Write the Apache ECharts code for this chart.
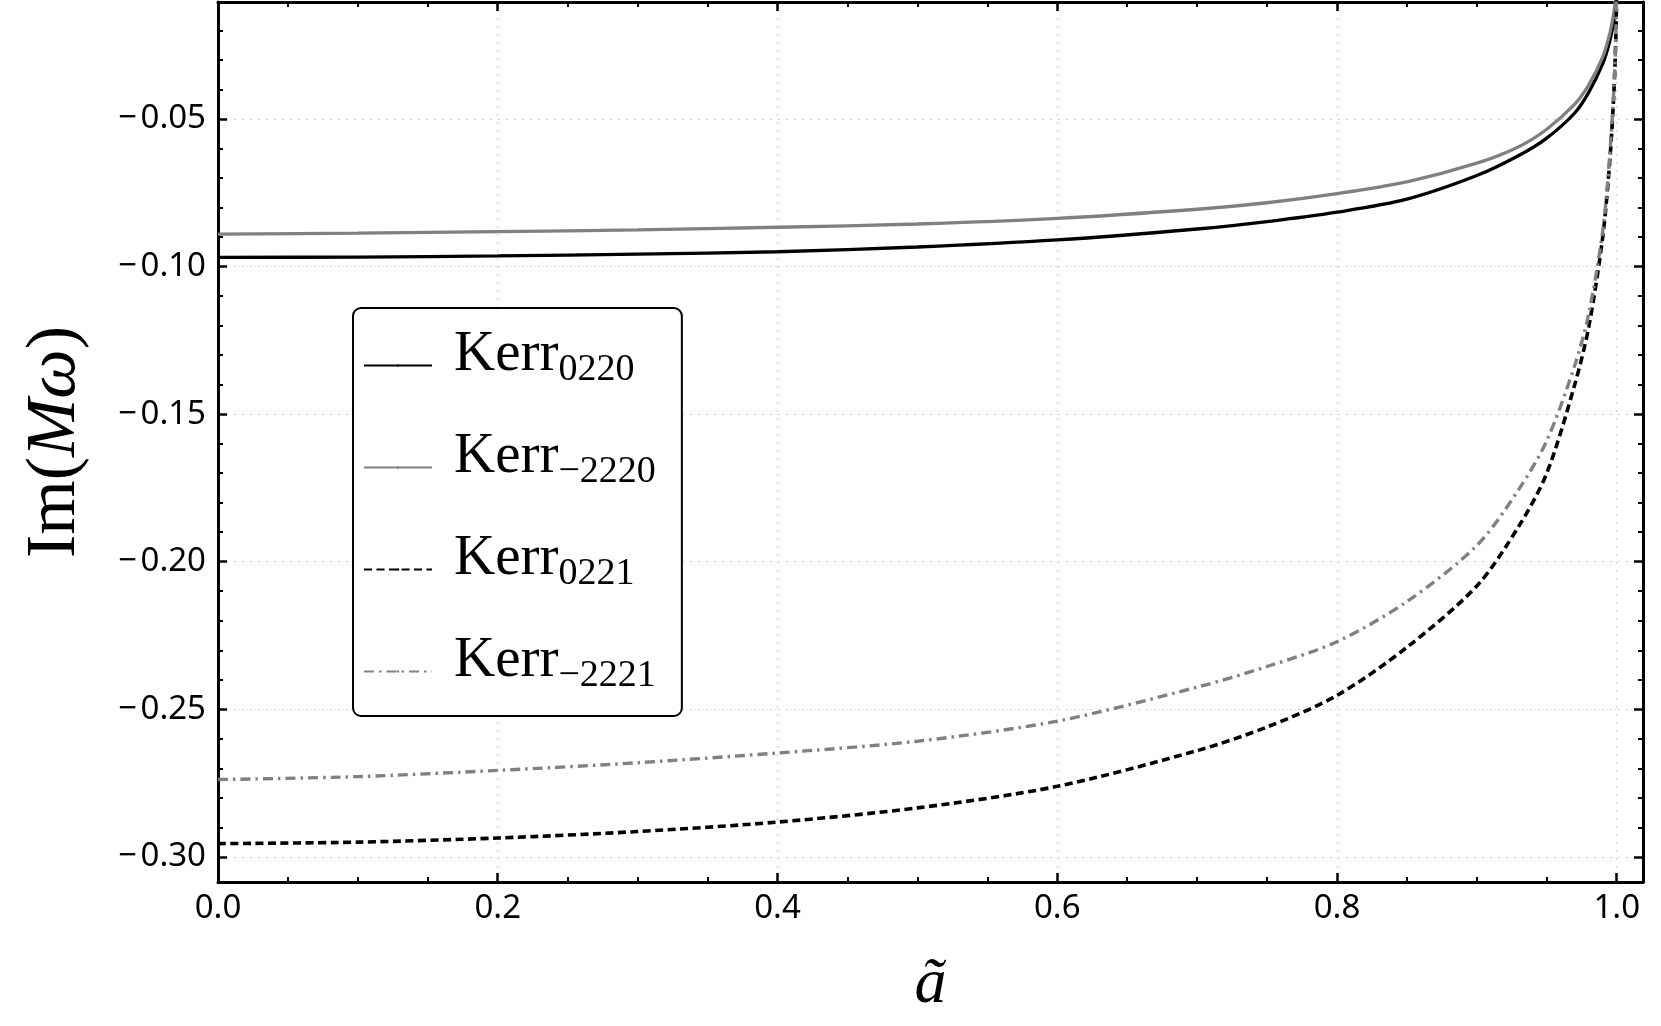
<!DOCTYPE html>
<html lang="en">
<head>
    <meta charset="UTF-8">
    <title>Im(Mω) vs ã</title>
    <style>
        html, body { margin: 0; padding: 0; background: #fff; }
    </style>
</head>
<body>

    <script src="https://cdn.jsdelivr.net/npm/echarts@6.0.0/dist/echarts.min.js"></script>

    <div id="main" style="width: 1661px;height:1026px;"></div>

    <script>
        // spin values (x axis)
        var spins = [0, 0.1, 0.2, 0.3, 0.4, 0.5, 0.6, 0.7, 0.75, 0.8, 0.85, 0.9, 0.93, 0.95, 0.97, 0.98, 0.99, 0.995, 0.998, 0.9995, 0.9999];

        // Im(M omega)
        var kerr0220  = [-0.0969, -0.0968, -0.0964, -0.0958, -0.0950, -0.0934, -0.0910, -0.0873, -0.0848, -0.0816, -0.0772, -0.0692, -0.0624, -0.0565, -0.0480, -0.0410, -0.0313, -0.0237, -0.0166, -0.0105, -0.0060];
        var kerrM2220 = [-0.0890, -0.0887, -0.0882, -0.0876, -0.0867, -0.0856, -0.0837, -0.0806, -0.0784, -0.0753, -0.0713, -0.0650, -0.0594, -0.0535, -0.0450, -0.0385, -0.0290, -0.0212, -0.0138, -0.0075, -0.0040];
        var kerr0221  = [-0.2955, -0.2950, -0.2936, -0.2914, -0.2882, -0.2834, -0.2761, -0.2640, -0.2560, -0.2453, -0.2290, -0.2082, -0.1880, -0.1700, -0.1400, -0.1205, -0.0900, -0.0645, -0.0410, -0.0205, -0.0092];
        var kerrM2221 = [-0.2738, -0.2728, -0.2707, -0.2681, -0.2648, -0.2608, -0.2540, -0.2425, -0.2355, -0.2271, -0.2135, -0.1945, -0.1755, -0.1590, -0.1335, -0.1160, -0.0880, -0.0625, -0.0395, -0.0197, -0.0088];

        var seriesNames = ['Kerr0220', 'Kerr-2220', 'Kerr0221', 'Kerr-2221'];
        var legendLabels = {
            'Kerr0220': '{k|Kerr}{s|0220}',
            'Kerr-2220': '{k|Kerr}{s|\u22122220}',
            'Kerr0221': '{k|Kerr}{s|0221}',
            'Kerr-2221': '{k|Kerr}{s|\u22122221}'
        };

        var xMin = 0, xMax = 1.0188;
        var yMin = -0.3085, yMax = -0.0104;

        function pairs(ys) {
            var out = [];
            for (var i = 0; i < spins.length; i++) {
                out.push([spins[i], ys[i]]);
            }
            return out;
        }

        function isMultiple(v, step) {
            var r = v / step;
            return Math.abs(r - Math.round(r)) < 1e-6;
        }

        var serif = 'Liberation Serif';
        var sans = 'Noto Sans';

        var tickStyle = { show: true, inside: true, length: 9, lineStyle: { color: '#000', width: 2.5 } };
        var axisLineStyle = { show: true, onZero: false, lineStyle: { color: '#000', width: 3 } };
        var gridStyle = { show: true, lineStyle: { color: '#cfcfcf', width: 1.2, type: [2, 6] } };

        var myChart = echarts.init(document.getElementById('main'));

        var option = {
            animation: false,
            backgroundColor: '#fff',
            grid: { left: 218, right: 18, top: 2, bottom: 144 },
            legend: {
                data: seriesNames,
                orient: 'vertical',
                left: 353,
                top: 308,
                padding: [19, 26, 6, 10],
                itemGap: 25,
                itemWidth: 68,
                itemHeight: 3,
                borderColor: '#000',
                borderWidth: 2,
                borderRadius: 8,
                backgroundColor: 'rgba(255,255,255,0.8)',
                formatter: function (name) { return legendLabels[name]; },
                textStyle: {
                    color: '#000',
                    rich: {
                        k: { fontFamily: serif, fontSize: 57, lineHeight: 60, padding: [0, 0, 20, 17], color: '#000' },
                        s: { fontFamily: serif, fontSize: 38, lineHeight: 60, padding: [10, 0, 0, 0], color: '#000' }
                    }
                }
            },
            xAxis: [
                {
                    type: 'value', min: xMin, max: xMax, splitNumber: 5,
                    name: '\u00e3', nameLocation: 'middle', nameGap: 71,
                    nameTextStyle: { fontFamily: serif, fontStyle: 'italic', fontSize: 64, color: '#000' },
                    axisLine: axisLineStyle,
                    axisTick: tickStyle,
                    minorTick: { show: true, splitNumber: 4, length: 5, lineStyle: { color: '#000', width: 2 } },
                    splitLine: gridStyle,
                    axisLabel: {
                        margin: 10, color: '#000', fontFamily: sans, fontSize: 33,
                        formatter: function (v) { return isMultiple(v, 0.2) ? v.toFixed(1) : ''; }
                    }
                },
                {
                    type: 'value', position: 'top', min: xMin, max: xMax, splitNumber: 5,
                    axisLine: axisLineStyle,
                    axisTick: tickStyle,
                    minorTick: { show: true, splitNumber: 4, length: 5, lineStyle: { color: '#000', width: 2 } },
                    splitLine: { show: false },
                    axisLabel: { show: false }
                }
            ],
            yAxis: [
                {
                    type: 'value', min: yMin, max: yMax, splitNumber: 6,
                    name: 'Im({i|M\u03c9})', nameLocation: 'middle', nameGap: 127, nameRotate: 90,
                    nameTextStyle: {
                        fontFamily: serif, fontSize: 70, color: '#000',
                        rich: { i: { fontFamily: serif, fontStyle: 'italic', fontSize: 70, color: '#000' } }
                    },
                    axisLine: axisLineStyle,
                    axisTick: tickStyle,
                    minorTick: { show: true, splitNumber: 5, length: 5, lineStyle: { color: '#000', width: 2 } },
                    splitLine: gridStyle,
                    axisLabel: {
                        margin: 12, color: '#000', fontFamily: sans, fontSize: 33,
                        formatter: function (v) {
                            if (!isMultiple(v, 0.05)) return '';
                            return '\u2212\u200a' + Math.abs(v).toFixed(2);
                        }
                    }
                },
                {
                    type: 'value', position: 'right', min: yMin, max: yMax, splitNumber: 6,
                    axisLine: axisLineStyle,
                    axisTick: tickStyle,
                    minorTick: { show: true, splitNumber: 5, length: 5, lineStyle: { color: '#000', width: 2 } },
                    splitLine: { show: false },
                    axisLabel: { show: false }
                }
            ],
            series: [
                {
                    name: 'Kerr0220', type: 'line', data: pairs(kerr0220),
                    symbol: 'none', clip: true, smooth: 0.3,
                    itemStyle: { color: '#000' },
                    lineStyle: { color: '#000', width: 3.3 }
                },
                {
                    name: 'Kerr-2220', type: 'line', data: pairs(kerrM2220),
                    symbol: 'none', clip: true, smooth: 0.3,
                    itemStyle: { color: '#808080' },
                    lineStyle: { color: '#808080', width: 3.3 }
                },
                {
                    name: 'Kerr0221', type: 'line', data: pairs(kerr0221),
                    symbol: 'none', clip: true, smooth: 0.3,
                    itemStyle: { color: '#000' },
                    lineStyle: { color: '#000', width: 3.6, type: [8, 4.5] }
                },
                {
                    name: 'Kerr-2221', type: 'line', data: pairs(kerrM2221),
                    symbol: 'none', clip: true, smooth: 0.3,
                    itemStyle: { color: '#808080' },
                    lineStyle: { color: '#808080', width: 3.4, type: [10, 5, 2.5, 5] }
                }
            ]
        };

        myChart.setOption(option);
    </script>

</body>
</html>
